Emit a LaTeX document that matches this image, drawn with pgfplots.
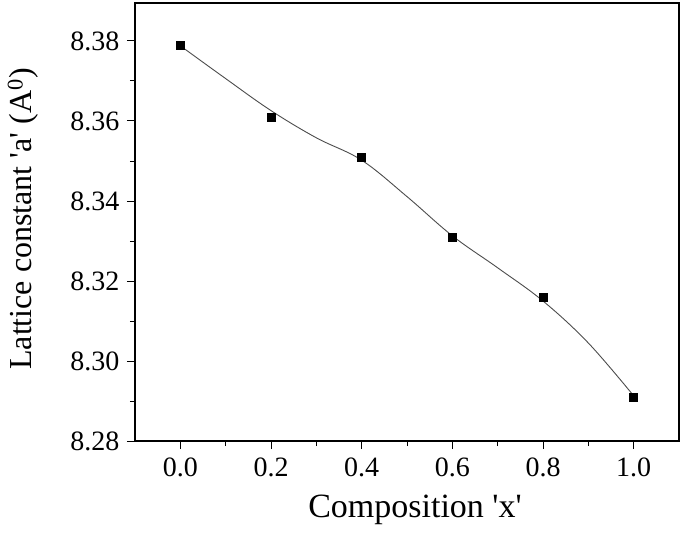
\documentclass[border=0pt]{standalone}
\usepackage{fontspec}
\setmainfont{Liberation Serif}
\usepackage{pgfplots}
\pgfplotsset{compat=1.18}
\begin{document}
\begin{tikzpicture}
\begin{axis}[
  scale only axis,
  width=544pt, height=438pt,
  xmin=-0.1, xmax=1.1,
  ymin=8.28, ymax=8.3895,
  xtick={0,0.2,0.4,0.6,0.8,1.0},
  ytick={8.28,8.30,8.32,8.34,8.36,8.38},
  minor x tick num=1,
  minor y tick num=1,
  tick pos=left,
  tick align=outside,
  major tick length=8pt,
  minor tick length=5pt,
  every tick/.style={black, line width=1pt},
  axis line style={line width=1.3pt},
  /pgf/number format/assume math mode=true,
  xticklabel style={yshift=-5pt, /pgf/number format/.cd, fixed, fixed zerofill, precision=1},
  yticklabel style={xshift=-4pt, /pgf/number format/.cd, fixed, fixed zerofill, precision=2},
  ticklabel style={font=\fontsize{28}{30}\selectfont},
  xlabel={Composition \textquotesingle x\textquotesingle},
  ylabel={Lattice constant \textquotesingle a\textquotesingle\ (A$^{\mathrm{0}}$)},
  xlabel style={font=\fontsize{34}{36}\selectfont, at={(axis description cs:0.5,0)}, anchor=base, xshift=8pt, yshift=-76pt},
  ylabel style={font=\fontsize{32}{34}\selectfont, at={(axis description cs:0,0.5)}, anchor=south, xshift=3pt, yshift=93pt},
]
% fitted curve as drawn in the figure
\addplot[black!70, line width=0.9pt, smooth, tension=0.6]
  coordinates {
  (0.0,8.3788)
  (0.1,8.3706)
  (0.2,8.3626)
  (0.3,8.3558)
  (0.4,8.3502)
  (0.5,8.3411)
  (0.6,8.3313)
  (0.7,8.3233)
  (0.8,8.3150)
  (0.9,8.3045)
  (1.0,8.2913)
  };
% measured points
\addplot[only marks, mark=square*, mark size=4pt, mark options={black, fill=black}]
  coordinates {
  (0.0,8.379)
  (0.2,8.361)
  (0.4,8.351)
  (0.6,8.331)
  (0.8,8.316)
  (1.0,8.291)
  };
\end{axis}
\path (current axis.south west) ++(-135pt,-95pt) rectangle ++(685pt,536pt);
\end{tikzpicture}
\end{document}
